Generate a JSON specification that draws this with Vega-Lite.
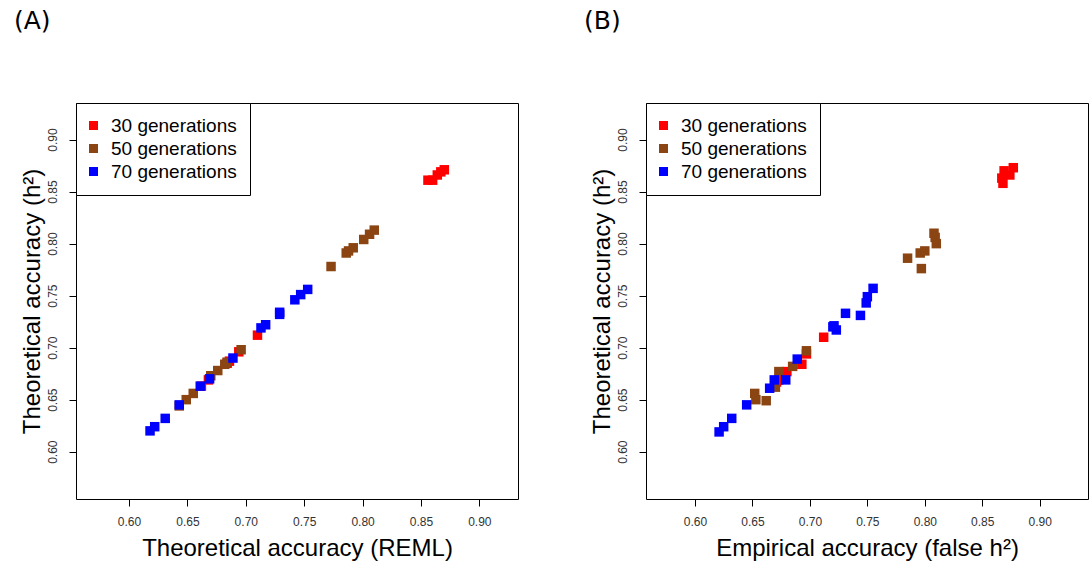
{
  "$schema": "https://vega.github.io/schema/vega-lite/v6.json",
  "padding": {"left": 13, "top": 8, "right": 0, "bottom": 0},
  "background": "white",
  "config": {
    "font": "Liberation Sans",
    "view": {"stroke": "#000", "strokeWidth": 1},
    "axis": {"grid": false, "domain": false, "tickColor": "#000", "tickSize": 7, "labelFontSize": 12, "labelColor": "#333", "labelPadding": 10, "titleFontSize": 24, "titleFontWeight": "normal", "titleColor": "#000"},
    "axisY": {"labelAngle": -90, "titlePadding": 2},
    "axisX": {"titlePadding": 9},
    "title": {"font": "DejaVu Sans", "fontSize": 25, "fontWeight": "normal", "anchor": "start", "frame": "group", "dx": -62, "offset": 69, "color": "#000"},
    "legend": {"orient": "top-left", "offset": 0, "strokeColor": "#000", "fillColor": "white", "padding": 13, "labelFontSize": 19, "labelOffset": 8, "symbolOffset": -5, "rowPadding": 3, "symbolType": "square", "symbolSize": 81, "symbolStrokeWidth": 0, "labelColor": "#000"},
    "concat": {"spacing": 64}
  },
  "datasets": {
    "a": [
      {"x": 0.694, "y": 0.696, "gen": "30 generations"},
      {"x": 0.686, "y": 0.687, "gen": "30 generations"},
      {"x": 0.684, "y": 0.685, "gen": "30 generations"},
      {"x": 0.662, "y": 0.663, "gen": "30 generations"},
      {"x": 0.668, "y": 0.669, "gen": "30 generations"},
      {"x": 0.710, "y": 0.712, "gen": "30 generations"},
      {"x": 0.856, "y": 0.861, "gen": "30 generations"},
      {"x": 0.860, "y": 0.861, "gen": "30 generations"},
      {"x": 0.864, "y": 0.866, "gen": "30 generations"},
      {"x": 0.867, "y": 0.869, "gen": "30 generations"},
      {"x": 0.870, "y": 0.871, "gen": "30 generations"},
      {"x": 0.643, "y": 0.644, "gen": "50 generations"},
      {"x": 0.649, "y": 0.650, "gen": "50 generations"},
      {"x": 0.655, "y": 0.656, "gen": "50 generations"},
      {"x": 0.670, "y": 0.673, "gen": "50 generations"},
      {"x": 0.676, "y": 0.678, "gen": "50 generations"},
      {"x": 0.682, "y": 0.684, "gen": "50 generations"},
      {"x": 0.684, "y": 0.686, "gen": "50 generations"},
      {"x": 0.696, "y": 0.698, "gen": "50 generations"},
      {"x": 0.773, "y": 0.778, "gen": "50 generations"},
      {"x": 0.786, "y": 0.791, "gen": "50 generations"},
      {"x": 0.788, "y": 0.793, "gen": "50 generations"},
      {"x": 0.792, "y": 0.796, "gen": "50 generations"},
      {"x": 0.801, "y": 0.804, "gen": "50 generations"},
      {"x": 0.806, "y": 0.809, "gen": "50 generations"},
      {"x": 0.810, "y": 0.813, "gen": "50 generations"},
      {"x": 0.618, "y": 0.620, "gen": "70 generations"},
      {"x": 0.622, "y": 0.624, "gen": "70 generations"},
      {"x": 0.631, "y": 0.632, "gen": "70 generations"},
      {"x": 0.643, "y": 0.645, "gen": "70 generations"},
      {"x": 0.661, "y": 0.663, "gen": "70 generations"},
      {"x": 0.669, "y": 0.670, "gen": "70 generations"},
      {"x": 0.689, "y": 0.690, "gen": "70 generations"},
      {"x": 0.713, "y": 0.719, "gen": "70 generations"},
      {"x": 0.717, "y": 0.722, "gen": "70 generations"},
      {"x": 0.729, "y": 0.734, "gen": "70 generations"},
      {"x": 0.729, "y": 0.732, "gen": "70 generations"},
      {"x": 0.742, "y": 0.746, "gen": "70 generations"},
      {"x": 0.747, "y": 0.751, "gen": "70 generations"},
      {"x": 0.753, "y": 0.756, "gen": "70 generations"}
    ],
    "b": [
      {"x": 0.671, "y": 0.667, "gen": "30 generations"},
      {"x": 0.673, "y": 0.669, "gen": "30 generations"},
      {"x": 0.680, "y": 0.677, "gen": "30 generations"},
      {"x": 0.693, "y": 0.684, "gen": "30 generations"},
      {"x": 0.697, "y": 0.694, "gen": "30 generations"},
      {"x": 0.712, "y": 0.710, "gen": "30 generations"},
      {"x": 0.867, "y": 0.863, "gen": "30 generations"},
      {"x": 0.868, "y": 0.858, "gen": "30 generations"},
      {"x": 0.869, "y": 0.870, "gen": "30 generations"},
      {"x": 0.874, "y": 0.866, "gen": "30 generations"},
      {"x": 0.877, "y": 0.873, "gen": "30 generations"},
      {"x": 0.652, "y": 0.656, "gen": "50 generations"},
      {"x": 0.653, "y": 0.650, "gen": "50 generations"},
      {"x": 0.662, "y": 0.649, "gen": "50 generations"},
      {"x": 0.670, "y": 0.662, "gen": "50 generations"},
      {"x": 0.673, "y": 0.677, "gen": "50 generations"},
      {"x": 0.685, "y": 0.682, "gen": "50 generations"},
      {"x": 0.697, "y": 0.697, "gen": "50 generations"},
      {"x": 0.785, "y": 0.786, "gen": "50 generations"},
      {"x": 0.797, "y": 0.776, "gen": "50 generations"},
      {"x": 0.796, "y": 0.791, "gen": "50 generations"},
      {"x": 0.800, "y": 0.793, "gen": "50 generations"},
      {"x": 0.808, "y": 0.810, "gen": "50 generations"},
      {"x": 0.809, "y": 0.806, "gen": "50 generations"},
      {"x": 0.810, "y": 0.800, "gen": "50 generations"},
      {"x": 0.621, "y": 0.619, "gen": "70 generations"},
      {"x": 0.625, "y": 0.624, "gen": "70 generations"},
      {"x": 0.632, "y": 0.632, "gen": "70 generations"},
      {"x": 0.645, "y": 0.645, "gen": "70 generations"},
      {"x": 0.665, "y": 0.661, "gen": "70 generations"},
      {"x": 0.669, "y": 0.669, "gen": "70 generations"},
      {"x": 0.679, "y": 0.669, "gen": "70 generations"},
      {"x": 0.689, "y": 0.689, "gen": "70 generations"},
      {"x": 0.720, "y": 0.720, "gen": "70 generations"},
      {"x": 0.721, "y": 0.721, "gen": "70 generations"},
      {"x": 0.723, "y": 0.717, "gen": "70 generations"},
      {"x": 0.731, "y": 0.733, "gen": "70 generations"},
      {"x": 0.744, "y": 0.731, "gen": "70 generations"},
      {"x": 0.749, "y": 0.743, "gen": "70 generations"},
      {"x": 0.750, "y": 0.749, "gen": "70 generations"},
      {"x": 0.755, "y": 0.757, "gen": "70 generations"}
    ]
  },
  "hconcat": [
    {
      "title": "(A)",
      "width": 442,
      "height": 396,
      "data": {"name": "a"},
      "mark": {"type": "point", "shape": "square", "filled": true, "size": 90, "opacity": 1},
      "encoding": {
        "x": {"field": "x", "type": "quantitative", "scale": {"domain": [0.5546, 0.9331], "nice": false, "zero": false}, "axis": {"values": [0.6, 0.65, 0.7, 0.75, 0.8, 0.85, 0.9], "format": ".2f", "title": "Theoretical accuracy (REML)"}},
        "y": {"field": "y", "type": "quantitative", "scale": {"domain": [0.5545, 0.9352], "nice": false, "zero": false}, "axis": {"values": [0.6, 0.65, 0.7, 0.75, 0.8, 0.85, 0.9], "format": ".2f", "title": "Theoretical accuracy (h²)"}},
        "color": {"field": "gen", "type": "nominal", "scale": {"domain": ["30 generations", "50 generations", "70 generations"], "range": ["#ff0000", "#8b4513", "#0000ff"]}, "legend": {"title": null}}
      }
    },
    {
      "title": "(B)",
      "width": 442,
      "height": 396,
      "data": {"name": "b"},
      "mark": {"type": "point", "shape": "square", "filled": true, "size": 90, "opacity": 1},
      "encoding": {
        "x": {"field": "x", "type": "quantitative", "scale": {"domain": [0.5574, 0.942], "nice": false, "zero": false}, "axis": {"values": [0.6, 0.65, 0.7, 0.75, 0.8, 0.85, 0.9], "format": ".2f", "title": "Empirical accuracy (false h²)"}},
        "y": {"field": "y", "type": "quantitative", "scale": {"domain": [0.5545, 0.9352], "nice": false, "zero": false}, "axis": {"values": [0.6, 0.65, 0.7, 0.75, 0.8, 0.85, 0.9], "format": ".2f", "title": "Theoretical accuracy (h²)"}},
        "color": {"field": "gen", "type": "nominal", "scale": {"domain": ["30 generations", "50 generations", "70 generations"], "range": ["#ff0000", "#8b4513", "#0000ff"]}, "legend": {"title": null}}
      }
    }
  ],
  "resolve": {"legend": {"color": "independent"}, "scale": {"color": "independent"}}
}
